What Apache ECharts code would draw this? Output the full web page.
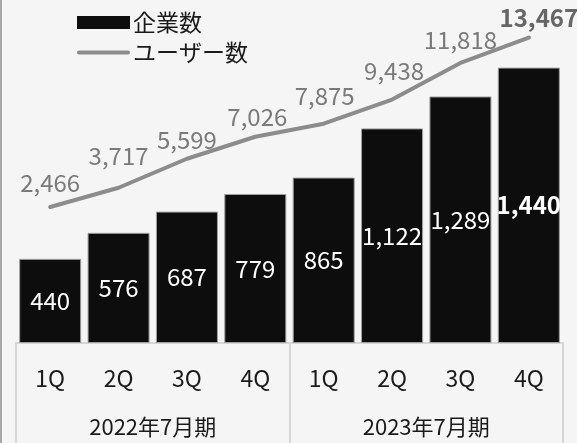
<!DOCTYPE html>
<html>
<head>
<meta charset="utf-8">
<script src="https://cdn.jsdelivr.net/npm/echarts@6/dist/echarts.min.js"></script>
<style>
  html, body { margin: 0; padding: 0; background: #f5f5f5; }
  #chart { width: 577px; height: 443px; }
</style>
</head>
<body>
<div id="chart"></div>
<script>
// Quarterly companies (bars) and users (line)
const quarters = ['1Q', '2Q', '3Q', '4Q', '1Q', '2Q', '3Q', '4Q'];
const fiscalYears = ['2022年7月期', '2023年7月期'];
const companies = [440, 576, 687, 779, 865, 1122, 1289, 1440];
const users = [2466, 3717, 5599, 7026, 7875, 9438, 11818, 13467];
const seriesNames = ['企業数', 'ユーザー数'];

// small nudges for the user labels above the line [dx, dy]
const userLabelNudge = [[0, -7], [0, -15], [0, -2], [2, -3], [1, -11], [2, -12], [0, -6], [10, -3]];

const FONT = '"Noto Sans CJK JP", "Noto Sans", sans-serif';
const fmt = v => v.toLocaleString('en-US');
const last = companies.length - 1;

const barData = companies.map((v, i) => i === last
  ? { value: v, label: { fontWeight: 'bold' } }
  : v);
const lineData = users.map((v, i) => ({
  value: v,
  label: i === last
    ? { offset: userLabelNudge[i], fontWeight: 'bold', color: '#666666' }
    : { offset: userLabelNudge[i] }
}));

// legend glyph for the line: a thick stroke centred in a 53x13 box
const lineIcon = 'path://M0,0h53v0.01h-53z M1,4.5h51a2,2 0 0 1 0,4h-51a2,2 0 0 1 0,-4z M0,13h53v0.01h-53z';

const chart = echarts.init(document.getElementById('chart'), null, { renderer: 'canvas' });
chart.setOption({
  backgroundColor: '#f5f5f5',
  animation: false,
  textStyle: { fontFamily: FONT },
  legend: {
    orient: 'vertical',
    left: 72,
    top: 6,
    itemWidth: 53,
    itemHeight: 13,
    itemGap: 7,
    textStyle: { fontSize: 23, color: '#1a1a1a', fontFamily: FONT, padding: [0, 0, 0, -2] },
    data: [
      { name: seriesNames[0], icon: 'rect', itemStyle: { borderWidth: 0, color: '#0d0d0d' } },
      { name: seriesNames[1], icon: lineIcon, itemStyle: { color: '#8c8c8c', borderWidth: 0 } }
    ]
  },
  grid: [
    { left: 16, right: 14, top: 37, bottom: 100 },
    { left: 16, right: 14, top: 37, bottom: 198 }
  ],
  xAxis: [
    {
      type: 'category', gridIndex: 0, data: quarters,
      axisLine: { show: true, lineStyle: { color: '#d6d6d6', width: 2 } },
      axisTick: { show: false },
      axisLabel: { fontSize: 23, color: '#1a1a1a', margin: 24, fontFamily: FONT }
    },
    {
      type: 'category', gridIndex: 0, data: fiscalYears, position: 'bottom',
      axisLine: { show: false },
      axisTick: { show: true, length: 110, lineStyle: { color: '#d6d6d6', width: 2 } },
      axisLabel: { fontSize: 22, color: '#1a1a1a', margin: 73, fontFamily: FONT }
    },
    {
      type: 'category', gridIndex: 1, data: quarters, show: false
    }
  ],
  yAxis: [
    { type: 'value', gridIndex: 0, min: 0, max: 1600, show: false },
    { type: 'value', gridIndex: 1, min: 0, max: 13500, show: false }
  ],
  series: [
    {
      name: seriesNames[0],
      type: 'bar',
      xAxisIndex: 0, yAxisIndex: 0,
      barWidth: 62,
      data: barData,
      itemStyle: { color: '#0d0d0d', borderColor: '#9e9e9e', borderWidth: 1 },
      label: {
        show: true, position: 'inside', color: '#ffffff', fontSize: 24,
        fontFamily: FONT, formatter: p => fmt(p.value)
      }
    },
    {
      name: seriesNames[1],
      type: 'line',
      xAxisIndex: 2, yAxisIndex: 1,
      data: lineData,
      symbol: 'circle',
      symbolSize: 0,
      showSymbol: true,
      lineStyle: { color: '#8c8c8c', width: 4, cap: 'round' },
      itemStyle: { color: '#8c8c8c' },
      label: {
        show: true, position: 'top', distance: 5, color: '#7a7a7a', fontSize: 24,
        fontFamily: FONT, formatter: p => fmt(p.value)
      }
    }
  ],
  graphic: [
    { type: 'rect', left: 0, top: 0, shape: { width: 2, height: 443 }, style: { fill: '#a8a8a8' } }
  ]
});
</script>
</body>
</html>
